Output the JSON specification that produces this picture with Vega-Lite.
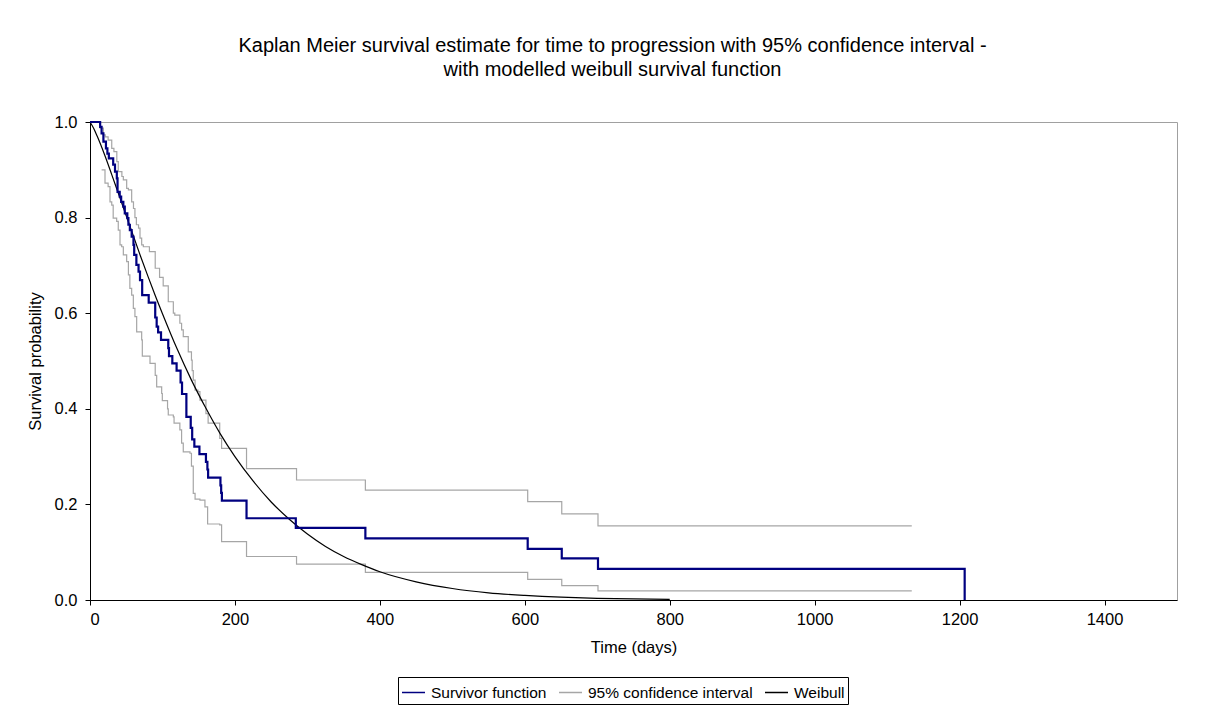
{
  "$schema": "https://vega.github.io/schema/vega-lite/v6.json",
  "width": 1087,
  "height": 478,
  "autosize": {"type": "none"},
  "padding": {"left": 90, "top": 122, "right": 35, "bottom": 111},
  "background": "white",
  "title": {
    "text": ["Kaplan Meier survival estimate for time to progression with 95% confidence interval -", "with modelled weibull survival function"],
    "font": "Liberation Sans",
    "fontSize": 20,
    "fontWeight": "normal",
    "color": "black",
    "anchor": "middle",
    "lineHeight": 24,
    "offset": 34,
    "dx": -21
  },
  "config": {
    "font": "Liberation Sans",
    "view": {"stroke": "#A0A0A0", "strokeWidth": 1},
    "axis": {
      "grid": false,
      "domainColor": "black",
      "tickColor": "black",
      "labelColor": "black",
      "titleColor": "black",
      "labelFont": "Liberation Sans",
      "titleFont": "Liberation Sans",
      "labelFontSize": 16.5,
      "titleFontSize": 16.5,
      "titleFontWeight": "normal",
      "tickSize": 5
    }
  },
  "data": {
    "values": [
      {"series": "Survivor function", "part": "km", "t": 0, "s": 1.0},
      {"series": "Survivor function", "part": "km", "t": 14, "s": 0.99},
      {"series": "Survivor function", "part": "km", "t": 16, "s": 0.976},
      {"series": "Survivor function", "part": "km", "t": 18.5, "s": 0.959},
      {"series": "Survivor function", "part": "km", "t": 22, "s": 0.945},
      {"series": "Survivor function", "part": "km", "t": 24, "s": 0.934},
      {"series": "Survivor function", "part": "km", "t": 26, "s": 0.924},
      {"series": "Survivor function", "part": "km", "t": 32, "s": 0.911},
      {"series": "Survivor function", "part": "km", "t": 34.5, "s": 0.896},
      {"series": "Survivor function", "part": "km", "t": 37, "s": 0.882},
      {"series": "Survivor function", "part": "km", "t": 38, "s": 0.854},
      {"series": "Survivor function", "part": "km", "t": 41, "s": 0.844},
      {"series": "Survivor function", "part": "km", "t": 43, "s": 0.833},
      {"series": "Survivor function", "part": "km", "t": 46, "s": 0.823},
      {"series": "Survivor function", "part": "km", "t": 48, "s": 0.809},
      {"series": "Survivor function", "part": "km", "t": 51.5, "s": 0.799},
      {"series": "Survivor function", "part": "km", "t": 53, "s": 0.785},
      {"series": "Survivor function", "part": "km", "t": 55, "s": 0.774},
      {"series": "Survivor function", "part": "km", "t": 57.5, "s": 0.76},
      {"series": "Survivor function", "part": "km", "t": 60, "s": 0.743},
      {"series": "Survivor function", "part": "km", "t": 61, "s": 0.722},
      {"series": "Survivor function", "part": "km", "t": 64, "s": 0.701},
      {"series": "Survivor function", "part": "km", "t": 67, "s": 0.687},
      {"series": "Survivor function", "part": "km", "t": 69, "s": 0.669},
      {"series": "Survivor function", "part": "km", "t": 72, "s": 0.638},
      {"series": "Survivor function", "part": "km", "t": 81, "s": 0.622},
      {"series": "Survivor function", "part": "km", "t": 90, "s": 0.591},
      {"series": "Survivor function", "part": "km", "t": 92, "s": 0.572},
      {"series": "Survivor function", "part": "km", "t": 94, "s": 0.56},
      {"series": "Survivor function", "part": "km", "t": 98, "s": 0.544},
      {"series": "Survivor function", "part": "km", "t": 108, "s": 0.527},
      {"series": "Survivor function", "part": "km", "t": 109, "s": 0.51},
      {"series": "Survivor function", "part": "km", "t": 113.6, "s": 0.495},
      {"series": "Survivor function", "part": "km", "t": 119.5, "s": 0.48},
      {"series": "Survivor function", "part": "km", "t": 125, "s": 0.455},
      {"series": "Survivor function", "part": "km", "t": 127, "s": 0.431},
      {"series": "Survivor function", "part": "km", "t": 133, "s": 0.383},
      {"series": "Survivor function", "part": "km", "t": 139, "s": 0.36},
      {"series": "Survivor function", "part": "km", "t": 141, "s": 0.336},
      {"series": "Survivor function", "part": "km", "t": 144, "s": 0.321},
      {"series": "Survivor function", "part": "km", "t": 151, "s": 0.305},
      {"series": "Survivor function", "part": "km", "t": 160, "s": 0.289},
      {"series": "Survivor function", "part": "km", "t": 162, "s": 0.273},
      {"series": "Survivor function", "part": "km", "t": 163, "s": 0.256},
      {"series": "Survivor function", "part": "km", "t": 180, "s": 0.24},
      {"series": "Survivor function", "part": "km", "t": 181, "s": 0.224},
      {"series": "Survivor function", "part": "km", "t": 182, "s": 0.208},
      {"series": "Survivor function", "part": "km", "t": 216, "s": 0.171},
      {"series": "Survivor function", "part": "km", "t": 284, "s": 0.151},
      {"series": "Survivor function", "part": "km", "t": 380, "s": 0.129},
      {"series": "Survivor function", "part": "km", "t": 604, "s": 0.107},
      {"series": "Survivor function", "part": "km", "t": 651, "s": 0.087},
      {"series": "Survivor function", "part": "km", "t": 701, "s": 0.065},
      {"series": "Survivor function", "part": "km", "t": 1207, "s": 0.0},

      {"series": "95% confidence interval", "part": "upper", "t": 0, "s": 1.0},
      {"series": "95% confidence interval", "part": "upper", "t": 14, "s": 0.987},
      {"series": "95% confidence interval", "part": "upper", "t": 18.5, "s": 0.973},
      {"series": "95% confidence interval", "part": "upper", "t": 21, "s": 0.969},
      {"series": "95% confidence interval", "part": "upper", "t": 25, "s": 0.962},
      {"series": "95% confidence interval", "part": "upper", "t": 30, "s": 0.945},
      {"series": "95% confidence interval", "part": "upper", "t": 33, "s": 0.938},
      {"series": "95% confidence interval", "part": "upper", "t": 37, "s": 0.917},
      {"series": "95% confidence interval", "part": "upper", "t": 39, "s": 0.896},
      {"series": "95% confidence interval", "part": "upper", "t": 44, "s": 0.886},
      {"series": "95% confidence interval", "part": "upper", "t": 46, "s": 0.879},
      {"series": "95% confidence interval", "part": "upper", "t": 50.6, "s": 0.861},
      {"series": "95% confidence interval", "part": "upper", "t": 53, "s": 0.858},
      {"series": "95% confidence interval", "part": "upper", "t": 57.5, "s": 0.833},
      {"series": "95% confidence interval", "part": "upper", "t": 60, "s": 0.819},
      {"series": "95% confidence interval", "part": "upper", "t": 62, "s": 0.8},
      {"series": "95% confidence interval", "part": "upper", "t": 64, "s": 0.785},
      {"series": "95% confidence interval", "part": "upper", "t": 67, "s": 0.778},
      {"series": "95% confidence interval", "part": "upper", "t": 69, "s": 0.757},
      {"series": "95% confidence interval", "part": "upper", "t": 71.3, "s": 0.743},
      {"series": "95% confidence interval", "part": "upper", "t": 73.6, "s": 0.739},
      {"series": "95% confidence interval", "part": "upper", "t": 82, "s": 0.729},
      {"series": "95% confidence interval", "part": "upper", "t": 90, "s": 0.694},
      {"series": "95% confidence interval", "part": "upper", "t": 96, "s": 0.675},
      {"series": "95% confidence interval", "part": "upper", "t": 101, "s": 0.657},
      {"series": "95% confidence interval", "part": "upper", "t": 108, "s": 0.624},
      {"series": "95% confidence interval", "part": "upper", "t": 115, "s": 0.6},
      {"series": "95% confidence interval", "part": "upper", "t": 117, "s": 0.596},
      {"series": "95% confidence interval", "part": "upper", "t": 124, "s": 0.579},
      {"series": "95% confidence interval", "part": "upper", "t": 126.4, "s": 0.565},
      {"series": "95% confidence interval", "part": "upper", "t": 128.7, "s": 0.551},
      {"series": "95% confidence interval", "part": "upper", "t": 135.6, "s": 0.519},
      {"series": "95% confidence interval", "part": "upper", "t": 140, "s": 0.502},
      {"series": "95% confidence interval", "part": "upper", "t": 141, "s": 0.48},
      {"series": "95% confidence interval", "part": "upper", "t": 142.5, "s": 0.46},
      {"series": "95% confidence interval", "part": "upper", "t": 145, "s": 0.439},
      {"series": "95% confidence interval", "part": "upper", "t": 149, "s": 0.436},
      {"series": "95% confidence interval", "part": "upper", "t": 151.7, "s": 0.418},
      {"series": "95% confidence interval", "part": "upper", "t": 160, "s": 0.39},
      {"series": "95% confidence interval", "part": "upper", "t": 163, "s": 0.37},
      {"series": "95% confidence interval", "part": "upper", "t": 179, "s": 0.338},
      {"series": "95% confidence interval", "part": "upper", "t": 181.6, "s": 0.317},
      {"series": "95% confidence interval", "part": "upper", "t": 216, "s": 0.275},
      {"series": "95% confidence interval", "part": "upper", "t": 285, "s": 0.251},
      {"series": "95% confidence interval", "part": "upper", "t": 380, "s": 0.23},
      {"series": "95% confidence interval", "part": "upper", "t": 604, "s": 0.206},
      {"series": "95% confidence interval", "part": "upper", "t": 651, "s": 0.18},
      {"series": "95% confidence interval", "part": "upper", "t": 701, "s": 0.155},
      {"series": "95% confidence interval", "part": "upper", "t": 1134, "s": 0.155},

      {"series": "95% confidence interval", "part": "lower", "t": 16, "s": 0.9},
      {"series": "95% confidence interval", "part": "lower", "t": 20.7, "s": 0.872},
      {"series": "95% confidence interval", "part": "lower", "t": 25, "s": 0.865},
      {"series": "95% confidence interval", "part": "lower", "t": 27.6, "s": 0.833},
      {"series": "95% confidence interval", "part": "lower", "t": 30, "s": 0.826},
      {"series": "95% confidence interval", "part": "lower", "t": 32, "s": 0.799},
      {"series": "95% confidence interval", "part": "lower", "t": 36.8, "s": 0.792},
      {"series": "95% confidence interval", "part": "lower", "t": 39, "s": 0.774},
      {"series": "95% confidence interval", "part": "lower", "t": 41.4, "s": 0.743},
      {"series": "95% confidence interval", "part": "lower", "t": 43.7, "s": 0.739},
      {"series": "95% confidence interval", "part": "lower", "t": 46, "s": 0.722},
      {"series": "95% confidence interval", "part": "lower", "t": 50.6, "s": 0.708},
      {"series": "95% confidence interval", "part": "lower", "t": 53, "s": 0.68},
      {"series": "95% confidence interval", "part": "lower", "t": 55, "s": 0.652},
      {"series": "95% confidence interval", "part": "lower", "t": 57.5, "s": 0.638},
      {"series": "95% confidence interval", "part": "lower", "t": 59.8, "s": 0.61},
      {"series": "95% confidence interval", "part": "lower", "t": 62, "s": 0.593},
      {"series": "95% confidence interval", "part": "lower", "t": 64.4, "s": 0.561},
      {"series": "95% confidence interval", "part": "lower", "t": 71.3, "s": 0.544},
      {"series": "95% confidence interval", "part": "lower", "t": 72.2, "s": 0.51},
      {"series": "95% confidence interval", "part": "lower", "t": 82.8, "s": 0.495},
      {"series": "95% confidence interval", "part": "lower", "t": 90, "s": 0.47},
      {"series": "95% confidence interval", "part": "lower", "t": 92, "s": 0.446},
      {"series": "95% confidence interval", "part": "lower", "t": 98.9, "s": 0.432},
      {"series": "95% confidence interval", "part": "lower", "t": 99.8, "s": 0.417},
      {"series": "95% confidence interval", "part": "lower", "t": 107, "s": 0.4},
      {"series": "95% confidence interval", "part": "lower", "t": 108, "s": 0.387},
      {"series": "95% confidence interval", "part": "lower", "t": 115, "s": 0.383},
      {"series": "95% confidence interval", "part": "lower", "t": 116, "s": 0.37},
      {"series": "95% confidence interval", "part": "lower", "t": 124, "s": 0.356},
      {"series": "95% confidence interval", "part": "lower", "t": 126.4, "s": 0.328},
      {"series": "95% confidence interval", "part": "lower", "t": 128.7, "s": 0.31},
      {"series": "95% confidence interval", "part": "lower", "t": 138, "s": 0.307},
      {"series": "95% confidence interval", "part": "lower", "t": 140, "s": 0.28},
      {"series": "95% confidence interval", "part": "lower", "t": 142.5, "s": 0.223},
      {"series": "95% confidence interval", "part": "lower", "t": 145, "s": 0.211},
      {"series": "95% confidence interval", "part": "lower", "t": 151.7, "s": 0.209},
      {"series": "95% confidence interval", "part": "lower", "t": 158.6, "s": 0.195},
      {"series": "95% confidence interval", "part": "lower", "t": 162.3, "s": 0.159},
      {"series": "95% confidence interval", "part": "lower", "t": 179, "s": 0.157},
      {"series": "95% confidence interval", "part": "lower", "t": 181.6, "s": 0.122},
      {"series": "95% confidence interval", "part": "lower", "t": 216, "s": 0.091},
      {"series": "95% confidence interval", "part": "lower", "t": 285, "s": 0.075},
      {"series": "95% confidence interval", "part": "lower", "t": 380, "s": 0.058},
      {"series": "95% confidence interval", "part": "lower", "t": 604, "s": 0.043},
      {"series": "95% confidence interval", "part": "lower", "t": 651, "s": 0.03},
      {"series": "95% confidence interval", "part": "lower", "t": 701, "s": 0.019},
      {"series": "95% confidence interval", "part": "lower", "t": 1134, "s": 0.019},

      {"series": "Weibull", "part": "weibull", "t": 0, "s": 1.0},
      {"series": "Weibull", "part": "weibull", "t": 5, "s": 0.987},
      {"series": "Weibull", "part": "weibull", "t": 10, "s": 0.970},
      {"series": "Weibull", "part": "weibull", "t": 20, "s": 0.932},
      {"series": "Weibull", "part": "weibull", "t": 30, "s": 0.890},
      {"series": "Weibull", "part": "weibull", "t": 40, "s": 0.847},
      {"series": "Weibull", "part": "weibull", "t": 50, "s": 0.804},
      {"series": "Weibull", "part": "weibull", "t": 60, "s": 0.761},
      {"series": "Weibull", "part": "weibull", "t": 70, "s": 0.718},
      {"series": "Weibull", "part": "weibull", "t": 80, "s": 0.677},
      {"series": "Weibull", "part": "weibull", "t": 90, "s": 0.637},
      {"series": "Weibull", "part": "weibull", "t": 100, "s": 0.599},
      {"series": "Weibull", "part": "weibull", "t": 120, "s": 0.526},
      {"series": "Weibull", "part": "weibull", "t": 140, "s": 0.460},
      {"series": "Weibull", "part": "weibull", "t": 160, "s": 0.401},
      {"series": "Weibull", "part": "weibull", "t": 180, "s": 0.347},
      {"series": "Weibull", "part": "weibull", "t": 200, "s": 0.300},
      {"series": "Weibull", "part": "weibull", "t": 225, "s": 0.249},
      {"series": "Weibull", "part": "weibull", "t": 250, "s": 0.205},
      {"series": "Weibull", "part": "weibull", "t": 275, "s": 0.169},
      {"series": "Weibull", "part": "weibull", "t": 300, "s": 0.138},
      {"series": "Weibull", "part": "weibull", "t": 325, "s": 0.112},
      {"series": "Weibull", "part": "weibull", "t": 350, "s": 0.091},
      {"series": "Weibull", "part": "weibull", "t": 375, "s": 0.074},
      {"series": "Weibull", "part": "weibull", "t": 400, "s": 0.059},
      {"series": "Weibull", "part": "weibull", "t": 450, "s": 0.038},
      {"series": "Weibull", "part": "weibull", "t": 500, "s": 0.024},
      {"series": "Weibull", "part": "weibull", "t": 550, "s": 0.015},
      {"series": "Weibull", "part": "weibull", "t": 600, "s": 0.0096},
      {"series": "Weibull", "part": "weibull", "t": 650, "s": 0.0059},
      {"series": "Weibull", "part": "weibull", "t": 700, "s": 0.0036},
      {"series": "Weibull", "part": "weibull", "t": 750, "s": 0.0022},
      {"series": "Weibull", "part": "weibull", "t": 800, "s": 0.0013}
    ]
  },
  "encoding": {
    "x": {
      "field": "t", "type": "quantitative", "title": "Time (days)",
      "scale": {"domain": [0, 1500], "nice": false},
      "axis": {"values": [0, 200, 400, 600, 800, 1000, 1200, 1400], "format": "d", "labelPadding": 6, "titlePadding": 12}
    },
    "y": {
      "field": "s", "type": "quantitative", "title": "Survival probability",
      "scale": {"domain": [0, 1], "nice": false},
      "axis": {"values": [0, 0.2, 0.4, 0.6, 0.8, 1.0], "format": ".1f", "labelPadding": 8, "titlePadding": 11}
    },
    "color": {
      "field": "series", "type": "nominal",
      "scale": {
        "domain": ["Survivor function", "95% confidence interval", "Weibull"],
        "range": ["#000080", "#A6A6A6", "#000000"]
      },
      "legend": {
        "title": null,
        "orient": "none",
        "legendX": 308,
        "legendY": 555,
        "direction": "horizontal",
        "strokeColor": "black",
        "padding": 3,
        "labelFontSize": 15.5,
        "labelFont": "Liberation Sans",
        "labelColor": "black",
        "labelLimit": 400,
        "symbolType": "stroke",
        "symbolSize": 529,
        "symbolStrokeWidth": 1.5,
        "columnPadding": 9,
        "labelOffset": 5
      }
    },
    "detail": {"field": "part", "type": "nominal"}
  },
  "layer": [
    {
      "transform": [{"filter": "datum.part == 'upper' || datum.part == 'lower'"}],
      "mark": {"type": "line", "interpolate": "step-after", "strokeWidth": 1.2}
    },
    {
      "transform": [{"filter": "datum.part == 'weibull'"}],
      "mark": {"type": "line", "interpolate": "monotone", "strokeWidth": 1.2}
    },
    {
      "transform": [{"filter": "datum.part == 'km'"}],
      "mark": {"type": "line", "interpolate": "step-after", "strokeWidth": 2.2}
    }
  ]
}
